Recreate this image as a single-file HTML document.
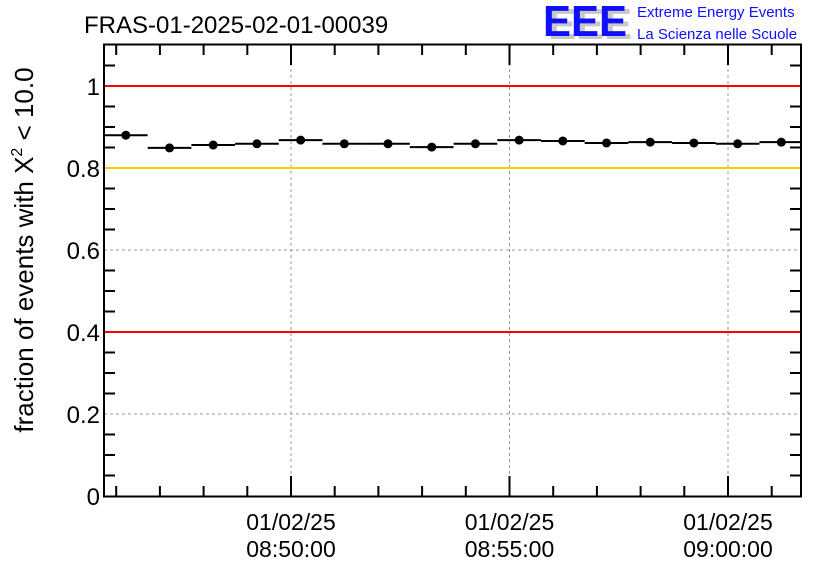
<!DOCTYPE html>
<html><head><meta charset="utf-8"><style>
body{margin:0;background:#fff;}
svg{display:block;font-family:"Liberation Sans",sans-serif;}
</style></head><body>
<svg id="chart" width="836" height="572">
<g id="grid"></g>
<g id="axes"></g>
<g id="lines"></g>
<g id="marks"></g>
<rect x="104" y="44.5" width="697" height="452" fill="none" stroke="#000" stroke-width="2"/>
<text x="84" y="33" font-size="24">FRAS-01-2025-02-01-00039</text>
<g>
<text x="548" y="39" font-size="44" font-weight="bold" fill="#c8c8c8" textLength="84" lengthAdjust="spacingAndGlyphs">EEE</text>
<text x="543" y="36" font-size="44" font-weight="bold" fill="#1010ff" textLength="84" lengthAdjust="spacingAndGlyphs">EEE</text>
<text x="637" y="17" font-size="15" fill="#1010ff">Extreme Energy Events</text>
<text x="637" y="39" font-size="15" fill="#1010ff">La Scienza nelle Scuole</text>
</g>
<text transform="translate(33,250) rotate(-90)" text-anchor="middle" font-size="26">fraction of events with Χ<tspan font-size="16" dy="-11">2</tspan><tspan dy="11"> &lt; 10.0</tspan></text>
</svg>
<script>
const values=[0.880,0.849,0.856,0.859,0.868,0.859,0.859,0.851,0.859,0.868,0.866,0.861,0.863,0.861,0.859,0.863];
const binStart=-4.28; // minutes relative to 08:50:00
const yTicks=[0,0.2,0.4,0.6,0.8,1];
const yTickLabels=["0","0.2","0.4","0.6","0.8","1"];
const xMajor=[0,5,10];
const xDateLabels=["01/02/25","01/02/25","01/02/25"];
const xTimeLabels=["08:50:00","08:55:00","09:00:00"];
const redLines=[1,0.4];
const yellowLines=[0.8];
const NS="http://www.w3.org/2000/svg";
const X=m=>291+m*43.7;
const Y=v=>496-v*410;
function mk(tag,attrs,parent,text){const e=document.createElementNS(NS,tag);for(const k in attrs)e.setAttribute(k,attrs[k]);if(text!==undefined)e.textContent=text;parent.appendChild(e);return e;}
const grid=document.getElementById('grid'),lines=document.getElementById('lines'),marks=document.getElementById('marks'),axes=document.getElementById('axes');
yTicks.forEach((v,i)=>{
 const g=mk('line',{x1:104,x2:801,y1:Y(v),y2:Y(v),stroke:'#999','stroke-dasharray':'3,3','stroke-width':1},grid);
 
 const t=mk('text',{x:100,y:Y(v)+9,'text-anchor':'end','font-size':24},axes,yTickLabels[i]);
 
});
for(let k=1;k<22;k++){const v=k*0.05;if(k%4===0)continue;
 mk('line',{x1:104,x2:115,y1:Y(v),y2:Y(v),stroke:'#000','stroke-width':2},axes);
 mk('line',{x1:790,x2:801,y1:Y(v),y2:Y(v),stroke:'#000','stroke-width':2},axes);}
for(let m=-4;m<=11;m++){
 const maj=xMajor.includes(m);const L=maj?20:10;
 mk('line',{x1:X(m),x2:X(m),y1:496,y2:496-L,stroke:'#000','stroke-width':2},axes);
 mk('line',{x1:X(m),x2:X(m),y1:45,y2:45+L,stroke:'#000','stroke-width':2},axes);
}
xMajor.forEach((m,i)=>{
 const g=mk('line',{x1:X(m),x2:X(m),y1:45,y2:496,stroke:'#999','stroke-dasharray':'3,3','stroke-width':1},grid);
 
 const t=mk('text',{x:X(m),y:530,'text-anchor':'middle','font-size':23},axes,xDateLabels[i]);
 
 const t2=mk('text',{x:X(m),y:557,'text-anchor':'middle','font-size':23},axes,xTimeLabels[i]);
 
});
redLines.forEach(v=>{const l=mk('line',{x1:104,x2:801,y1:Y(v),y2:Y(v),stroke:'#ff0000','stroke-width':2},lines);
 });
yellowLines.forEach(v=>{const l=mk('line',{x1:104,x2:801,y1:Y(v),y2:Y(v),stroke:'#ffcc00','stroke-width':2},lines);
 });
values.forEach((v,i)=>{
 const a=X(binStart+i),b=Math.min(X(binStart+i+1),801),c=X(binStart+i+0.5);
 const s=mk('line',{x1:a,x2:b,y1:Y(v),y2:Y(v),stroke:'#000','stroke-width':2},marks);
 
 const p=mk('circle',{cx:c,cy:Y(v),r:4.5,fill:'#000'},marks);
 
});
</script>
</body></html>
